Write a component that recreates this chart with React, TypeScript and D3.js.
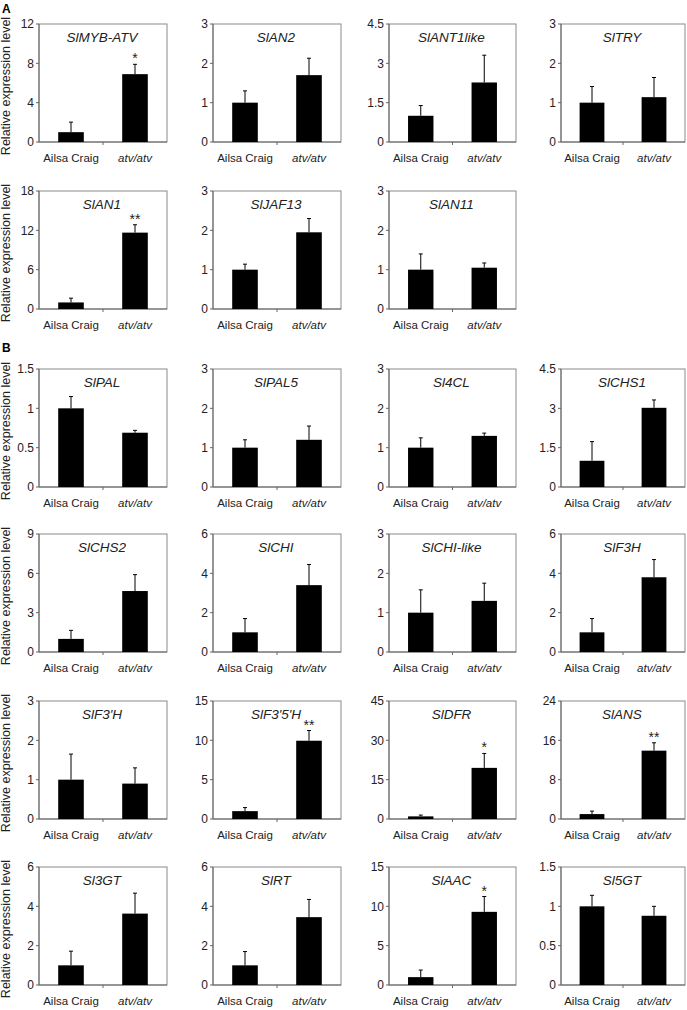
import React from "react";
import * as d3 from "d3";

// ---- data ----
const genes = [
  "SlMYB-ATV", "SlAN2", "SlANT1like", "SlTRY",
  "SlAN1", "SlJAF13", "SlAN11",
  "SlPAL", "SlPAL5", "Sl4CL", "SlCHS1",
  "SlCHS2", "SlCHI", "SlCHI-like", "SlF3H",
  "SlF3'H", "SlF3'5'H", "SlDFR", "SlANS",
  "Sl3GT", "SlRT", "SlAAC", "Sl5GT",
];
const yMax = [
  12, 3, 4.5, 3,
  18, 3, 3,
  1.5, 3, 3, 4.5,
  9, 6, 3, 6,
  3, 15, 45, 24,
  6, 6, 15, 1.5,
];
const categories = ["Ailsa Craig", "atv/atv"];
const acMean = [
  1, 1, 1, 1,
  1, 1, 1,
  1, 1, 1, 1,
  1, 1, 1, 1,
  1, 1, 1, 1,
  1, 1, 1, 1,
];
const acErr = [
  1.02, 0.3, 0.39, 0.41,
  0.65, 0.14, 0.4,
  0.15, 0.2, 0.25, 0.73,
  0.65, 0.7, 0.58, 0.7,
  0.65, 0.45, 0.5, 0.6,
  0.72, 0.7, 0.9, 0.14,
];
const atvMean = [
  6.9, 1.7, 2.27, 1.14,
  11.65, 1.95, 1.05,
  0.69, 1.2, 1.3, 3.02,
  4.65, 3.4, 1.3, 3.8,
  0.9, 9.95, 19.5, 13.9,
  3.63, 3.45, 9.3, 0.88,
];
const atvErr = [
  1.0, 0.43, 1.04, 0.5,
  1.2, 0.35, 0.12,
  0.03, 0.35, 0.07, 0.3,
  1.25, 1.05, 0.45, 0.9,
  0.4, 1.3, 5.5, 1.6,
  1.04, 0.9, 1.95, 0.12,
];
const significance = [
  "*", "", "", "",
  "**", "", "",
  "", "", "", "",
  "", "", "", "",
  "", "**", "*", "**",
  "", "", "*", "",
];
// panel placement: [row, col]
const rowOf = [0, 0, 0, 0, 1, 1, 1, 2, 2, 2, 2, 3, 3, 3, 3, 4, 4, 4, 4, 5, 5, 5, 5];
const colOf = [0, 1, 2, 3, 0, 1, 2, 0, 1, 2, 3, 0, 1, 2, 3, 0, 1, 2, 3, 0, 1, 2, 3];

// ---- layout ----
const W = 687;
const H = 1010;
const rowTops = [24, 191, 369, 534, 701, 867];
const plotH = 118;
const colLefts = [39, 213, 389, 561];
const colWidths = [128, 128, 127, 124];
const FONT = "Arial, 'Liberation Sans', Helvetica, sans-serif";

function Panel({ i }: { i: number }) {
  const top = rowTops[rowOf[i]];
  const left = colLefts[colOf[i]];
  const w = colWidths[colOf[i]];
  const bottom = top + plotH;
  const right = left + w;
  const y = d3.scaleLinear().domain([0, yMax[i]]).range([bottom, top]);
  const x = d3.scaleBand().domain(categories).range([left, right]).paddingInner(0).paddingOuter(0);
  const ticks = d3.range(0, 4).map((k) => (k * yMax[i]) / 3);
  const fmt = d3.format("~g");
  const barW = x.bandwidth() * 0.4;
  const means = [acMean[i], atvMean[i]];
  const errs = [acErr[i], atvErr[i]];
  return (
    <g>
      {/* frame */}
      <rect x={left} y={top} width={w} height={plotH} fill="none" stroke="#8a8a8a" strokeWidth={1} />
      <line x1={left} x2={left} y1={top} y2={bottom} stroke="#666" />
      <line x1={left} x2={right} y1={bottom} y2={bottom} stroke="#666" />
      {/* y ticks */}
      {ticks.map((t, k) => (
        <g key={k}>
          <line x1={left - 3} x2={left} y1={y(t)} y2={y(t)} stroke="#666" />
          <text x={left - 5} y={y(t)} dy="0.35em" textAnchor="end" fontSize={12} fill="#222" fontFamily={FONT}>
            {fmt(t)}
          </text>
        </g>
      ))}
      {/* middle x tick */}
      <line x1={(left + right) / 2} x2={(left + right) / 2} y1={bottom} y2={bottom + 3} stroke="#666" />
      {/* bars */}
      {categories.map((c, k) => {
        const cx = (x(c) as number) + x.bandwidth() / 2;
        const v = means[k];
        const e = errs[k];
        return (
          <g key={c}>
            <rect x={cx - barW / 2} y={y(v)} width={barW} height={bottom - y(v)} fill="#000" />
            <line x1={cx} x2={cx} y1={y(v)} y2={y(v + e)} stroke="#000" strokeWidth={1} />
            <line x1={cx - 2} x2={cx + 2} y1={y(v + e)} y2={y(v + e)} stroke="#000" strokeWidth={1} />
            {k === 1 && significance[i] && (
              <text x={cx} y={y(v + e) - 1} textAnchor="middle" fontSize={14} fill="#222" fontFamily={FONT}>
                {significance[i]}
              </text>
            )}
            <text
              x={cx}
              y={bottom + 20}
              textAnchor="middle"
              fontSize={11.5}
              fill="#222"
              fontFamily={FONT}
              fontStyle={k === 1 ? "italic" : "normal"}
            >
              {c}
            </text>
          </g>
        );
      })}
      {/* title */}
      <text x={(left + right) / 2 - 1} y={top + 17.5} textAnchor="middle" fontSize={13.5} fontStyle="italic" fill="#222" fontFamily={FONT}>
        {genes[i]}
      </text>
    </g>
  );
}

export default function App() {
  return (
    <svg width={W} height={H} style={{ position: "absolute", left: 0, top: 0, background: "#fff" }}>
      <rect width={W} height={H} fill="#fff" />
      <text x={2} y={13} fontSize={12} fontWeight="bold" fontFamily={FONT}>A</text>
      <text x={2} y={352} fontSize={12} fontWeight="bold" fontFamily={FONT}>B</text>
      {rowTops.map((t, r) => (
        <text
          key={r}
          transform={`translate(10,${t + plotH / 2 + 3}) rotate(-90)`}
          textAnchor="middle"
          fontSize={12.5}
          fill="#222"
          fontFamily={FONT}
        >
          Relative expression level
        </text>
      ))}
      {genes.map((g, i) => (
        <Panel key={g} i={i} />
      ))}
    </svg>
  );
}
